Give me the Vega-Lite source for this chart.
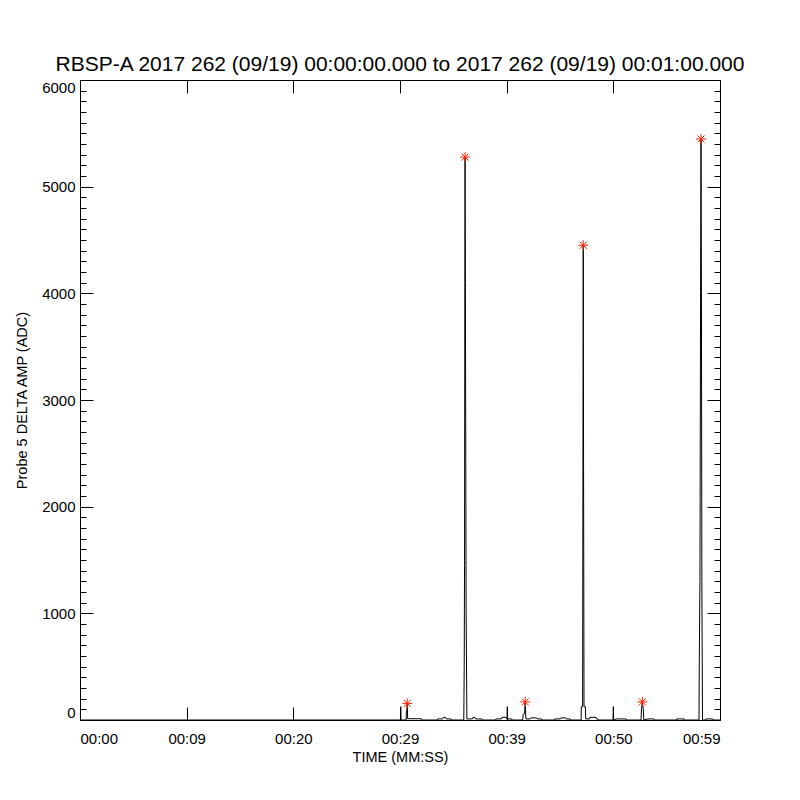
{
  "$schema": "https://vega.github.io/schema/vega-lite/v6.json",
  "width": 640,
  "height": 640,
  "autosize": {"type": "none"},
  "padding": {"left": 80, "top": 80, "right": 80, "bottom": 80},
  "background": "white",
  "title": {
    "text": "RBSP-A 2017 262 (09/19) 00:00:00.000 to 2017 262 (09/19) 00:01:00.000",
    "font": "Liberation Sans",
    "fontSize": 21,
    "fontWeight": "normal",
    "color": "black",
    "anchor": "middle",
    "frame": "group",
    "baseline": "alphabetic",
    "offset": -12
  },
  "config": {
    "view": {"stroke": null},
    "axis": {
      "grid": false,
      "domainColor": "black",
      "tickColor": "black",
      "labelColor": "black",
      "titleColor": "black",
      "labelFont": "Liberation Sans",
      "titleFont": "Liberation Sans",
      "labelFontSize": 15,
      "titleFontSize": 14.5,
      "titleFontWeight": "normal",
      "labelOverlap": false,
      "domainWidth": 1,
      "tickWidth": 1
    }
  },
  "datasets": {
    "signal": [
      {"t": 0, "v": 0}, {"t": 30.0, "v": 0}, {"t": 30.04, "v": 0}, {"t": 30.07, "v": 125}, {"t": 30.1, "v": 0},
      {"t": 30.58, "v": 0}, {"t": 30.6, "v": 85}, {"t": 30.64, "v": 85}, {"t": 30.68, "v": 156}, {"t": 30.72, "v": 12},
      {"t": 32.0, "v": 12}, {"t": 32.05, "v": 0}, {"t": 33.5, "v": 0}, {"t": 33.56, "v": 10}, {"t": 34.0, "v": 10},
      {"t": 34.06, "v": 25}, {"t": 34.28, "v": 25}, {"t": 34.34, "v": 10}, {"t": 34.78, "v": 10}, {"t": 34.84, "v": 0},
      {"t": 35.98, "v": 0}, {"t": 36.02, "v": 490}, {"t": 36.05, "v": 1450}, {"t": 36.08, "v": 4100}, {"t": 36.1, "v": 5277},
      {"t": 36.13, "v": 4100}, {"t": 36.2, "v": 1000}, {"t": 36.27, "v": 10}, {"t": 36.8, "v": 10}, {"t": 36.84, "v": 25},
      {"t": 37.03, "v": 25}, {"t": 37.08, "v": 10}, {"t": 37.66, "v": 10}, {"t": 37.7, "v": 0}, {"t": 38.95, "v": 0},
      {"t": 39.0, "v": 10}, {"t": 39.5, "v": 10}, {"t": 39.56, "v": 25}, {"t": 39.94, "v": 25}, {"t": 40.0, "v": 10},
      {"t": 40.03, "v": 10}, {"t": 40.06, "v": 125}, {"t": 40.09, "v": 10}, {"t": 40.47, "v": 10}, {"t": 40.5, "v": 0},
      {"t": 41.5, "v": 0}, {"t": 41.55, "v": 55}, {"t": 41.68, "v": 60}, {"t": 41.74, "v": 170}, {"t": 41.8, "v": 10},
      {"t": 42.22, "v": 10}, {"t": 42.28, "v": 20}, {"t": 42.81, "v": 20}, {"t": 42.86, "v": 10}, {"t": 43.28, "v": 10},
      {"t": 43.32, "v": 0}, {"t": 44.5, "v": 0}, {"t": 44.53, "v": 10}, {"t": 45.05, "v": 10}, {"t": 45.09, "v": 20},
      {"t": 45.53, "v": 20}, {"t": 45.58, "v": 10}, {"t": 45.94, "v": 10}, {"t": 45.98, "v": 0}, {"t": 46.98, "v": 0},
      {"t": 47.0, "v": 125}, {"t": 47.12, "v": 125}, {"t": 47.15, "v": 2364}, {"t": 47.18, "v": 4451}, {"t": 47.21, "v": 2364},
      {"t": 47.25, "v": 125}, {"t": 47.38, "v": 125}, {"t": 47.41, "v": 10}, {"t": 47.78, "v": 10}, {"t": 47.81, "v": 25},
      {"t": 48.38, "v": 25}, {"t": 48.42, "v": 10}, {"t": 48.53, "v": 10}, {"t": 48.57, "v": 0}, {"t": 49.97, "v": 0},
      {"t": 50.0, "v": 125}, {"t": 50.03, "v": 0}, {"t": 50.34, "v": 10}, {"t": 51.19, "v": 10}, {"t": 51.23, "v": 0},
      {"t": 52.6, "v": 0}, {"t": 52.64, "v": 110}, {"t": 52.72, "v": 170}, {"t": 52.8, "v": 110}, {"t": 52.86, "v": 0},
      {"t": 53.25, "v": 10}, {"t": 53.81, "v": 10}, {"t": 53.85, "v": 0}, {"t": 55.9, "v": 0}, {"t": 55.94, "v": 10},
      {"t": 56.63, "v": 10}, {"t": 56.67, "v": 0}, {"t": 58.03, "v": 0}, {"t": 58.06, "v": 560}, {"t": 58.12, "v": 1300},
      {"t": 58.18, "v": 4010}, {"t": 58.22, "v": 5447}, {"t": 58.26, "v": 4010}, {"t": 58.3, "v": 1300}, {"t": 58.36, "v": 0},
      {"t": 58.65, "v": 0}, {"t": 58.69, "v": 10}, {"t": 59.32, "v": 10}, {"t": 59.36, "v": 0}, {"t": 60, "v": 0}
    ],
    "peaks": [
      {"t": 30.68, "v": 156}, {"t": 36.1, "v": 5277}, {"t": 41.74, "v": 170},
      {"t": 47.18, "v": 4451}, {"t": 52.72, "v": 170}, {"t": 58.22, "v": 5447}
    ]
  },
  "layer": [
    {
      "data": {"name": "signal"},
      "mark": {"type": "line", "color": "black", "strokeWidth": 1, "clip": true},
      "encoding": {
        "x": {
          "field": "t", "type": "quantitative",
          "scale": {"domain": [0, 60], "nice": false, "zero": false},
          "axis": {
            "orient": "bottom",
            "values": [0, 10, 20, 30, 40, 50, 60],
            "tickSize": -13,
            "labelPadding": 24,
            "labelExpr": "['00:00','00:09','00:20','00:29','00:39','00:50','00:59'][round(datum.value/10)]",
            "title": "TIME (MM:SS)",
            "titlePadding": 4
          }
        },
        "y": {
          "field": "v", "type": "quantitative",
          "scale": {"domain": [0, 6000], "nice": false},
          "axis": {
            "orient": "left",
            "values": [0,100,200,300,400,500,600,700,800,900,1000,1100,1200,1300,1400,1500,1600,1700,1800,1900,2000,2100,2200,2300,2400,2500,2600,2700,2800,2900,3000,3100,3200,3300,3400,3500,3600,3700,3800,3900,4000,4100,4200,4300,4400,4500,4600,4700,4800,4900,5000,5100,5200,5300,5400,5500,5600,5700,5800,5900,6000],
            "tickSize": {"condition": {"test": "datum.value % 1000 === 0", "value": -13}, "value": -6},
            "labelPadding": 18,
            "labelFlush": true,
            "labelExpr": "datum.value % 1000 === 0 ? format(datum.value, 'd') : ''",
            "title": "Probe 5 DELTA AMP (ADC)",
            "titlePadding": 12
          }
        }
      }
    },
    {
      "data": {"name": "peaks"},
      "mark": {
        "type": "point",
        "shape": "M -1 0 L 1 0 M 0 -1 L 0 1 M -0.7 -0.7 L 0.7 0.7 M -0.7 0.7 L 0.7 -0.7",
        "filled": false,
        "stroke": "#ff2000",
        "strokeWidth": 1,
        "size": 100,
        "opacity": 1
      },
      "encoding": {
        "x": {
          "field": "t", "type": "quantitative",
          "axis": {
            "orient": "top",
            "values": [0, 10, 20, 30, 40, 50, 60],
            "tickSize": -13,
            "labels": false,
            "title": null
          }
        },
        "y": {
          "field": "v", "type": "quantitative",
          "axis": {
            "orient": "right",
            "values": [0,100,200,300,400,500,600,700,800,900,1000,1100,1200,1300,1400,1500,1600,1700,1800,1900,2000,2100,2200,2300,2400,2500,2600,2700,2800,2900,3000,3100,3200,3300,3400,3500,3600,3700,3800,3900,4000,4100,4200,4300,4400,4500,4600,4700,4800,4900,5000,5100,5200,5300,5400,5500,5600,5700,5800,5900,6000],
            "tickSize": {"condition": {"test": "datum.value % 1000 === 0", "value": -13}, "value": -6},
            "labels": false,
            "title": null
          }
        }
      }
    }
  ],
  "resolve": {"axis": {"x": "independent", "y": "independent"}}
}
